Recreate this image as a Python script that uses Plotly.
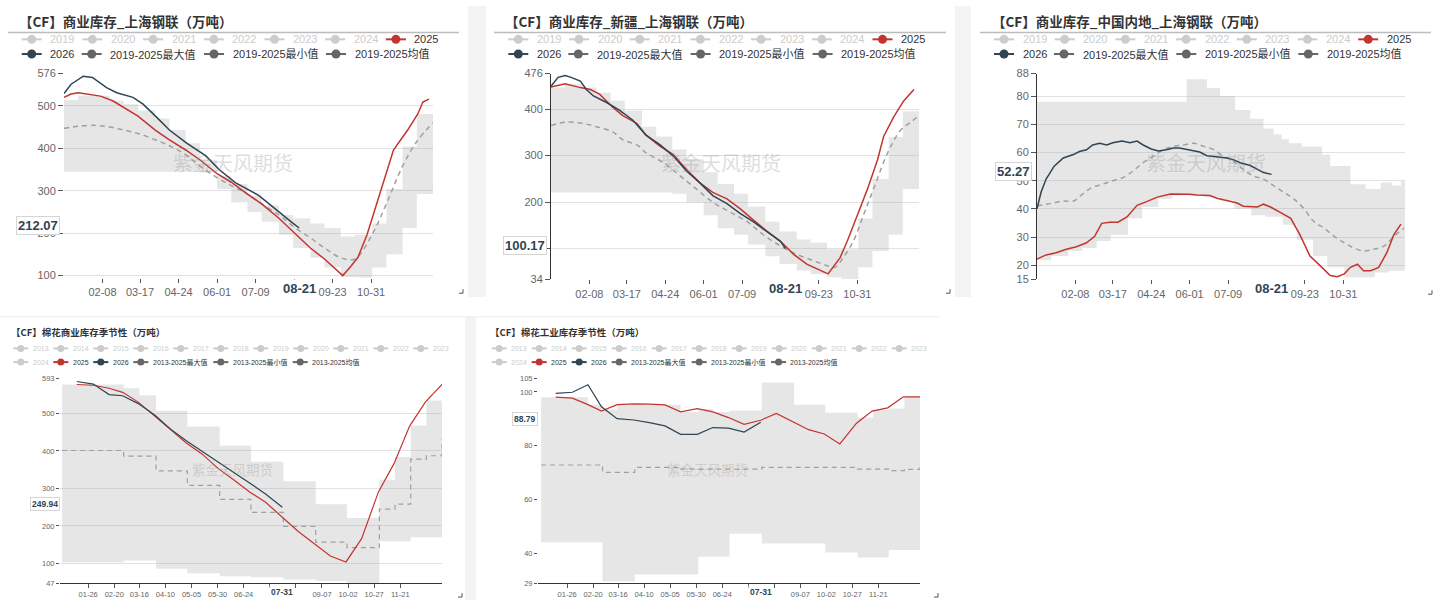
import plotly.graph_objects as go

# ======================= DATA =======================
SM = ["01-01", "01-15", "02-01", "02-15", "03-01", "03-15", "04-01", "04-15", "05-01", "05-15",
      "06-01", "06-15", "07-01", "07-15", "08-01", "08-15", "09-01", "09-15", "10-01", "10-15",
      "11-01", "11-15", "12-01", "12-15", "12-31"]
SM2 = ["01-15", "01-31", "02-15", "02-28", "03-15", "03-31", "04-15", "04-30", "05-15", "05-31",
       "06-15", "06-30", "07-15", "07-31", "08-15", "08-31", "09-15", "09-30", "10-15", "10-31",
       "11-15", "11-30", "12-15", "12-31"]

# ---- Panel 1: 商业库存_上海钢联 ----
p1_title = "【CF】商业库存_上海钢联（万吨）"
p1_max = [514, 524, 524, 512, 504, 489, 470, 443, 412, 373, 335, 316, 289, 266, 243, 235, 223, 212, 192, 196, 223, 304, 404, 481, 516]
p1_min = [345, 345, 345, 345, 345, 345, 345, 345, 345, 343, 304, 273, 250, 227, 196, 165, 142, 119, 96, 92, 119, 150, 212, 292, 366]
p1_mean = [447, 452, 454, 450, 443, 435, 420, 406, 385, 358, 331, 312, 292, 269, 243, 216, 189, 165, 142, 139, 197, 269, 358, 416, 460]
p1_2025_dates = ["01-01", "01-08", "01-15", "01-27", "02-06", "02-18", "03-01", "03-15", "04-01", "04-15", "05-01", "05-15",
                 "06-01", "06-15", "07-01", "07-15", "08-01", "08-15", "09-01", "09-15", "10-03", "10-11", "10-18", "10-27",
                 "11-06", "11-16", "11-22", "12-06", "12-16", "12-21", "12-27"]
p1_2025 = [520, 528, 531, 527, 523, 512, 497, 476, 443, 420, 396, 373, 340, 320, 292, 269, 235, 204, 165, 139, 100, 122, 143, 197,
           273, 350, 396, 443, 481, 509, 516]
p1_2026_dates = ["01-01", "01-08", "01-20", "01-29", "02-12", "02-22", "03-10", "03-20", "04-02", "04-15", "05-02", "05-21",
                 "06-03", "06-19", "07-12", "08-01", "08-15", "08-21"]
p1_2026 = [529, 551, 570, 567, 543, 531, 520, 504, 474, 443, 412, 382, 350, 319, 289, 249, 223, 212.07]
p1_yticks = [100, 200, 300, 400, 500, 576]
p1_ytext = ["100", "200", "300", "400", "500", "576"]

# ---- Panel 2: 商业库存_新疆_上海钢联 ----
p2_title = "【CF】商业库存_新疆_上海钢联（万吨）"
p2_max = [446, 453, 446, 435, 418, 397, 362, 341, 313, 292, 264, 239, 218, 190, 158, 137, 120, 113, 99, 99, 165, 250, 340, 395, 442]
p2_min = [221, 221, 221, 221, 221, 221, 221, 221, 218, 200, 172, 144, 130, 109, 84, 67, 53, 46, 39, 35, 60, 95, 130, 228, 320]
p2_mean_dates = ["01-01", "01-16", "01-30", "02-15", "03-03", "03-13", "03-27", "04-05", "04-22", "05-09", "05-25", "06-10",
                 "06-27", "07-14", "07-30", "08-16", "09-01", "09-18", "10-02", "10-09", "10-17", "10-27", "11-06", "11-16",
                 "11-30", "12-13", "12-23", "12-31"]
p2_mean = [365, 372, 370, 362, 351, 334, 323, 306, 285, 256, 228, 200, 179, 158, 130, 106, 88, 74, 63, 60, 81, 116, 172, 228,
           306, 355, 372, 386]
p2_2025_dates = ["01-01", "01-15", "01-30", "02-09", "02-18", "03-03", "03-13", "03-27", "04-05", "04-19", "05-02", "05-15",
                 "05-28", "06-10", "06-24", "07-07", "07-20", "08-03", "08-16", "08-29", "09-11", "09-24", "10-02", "10-14",
                 "10-21", "10-31", "11-10", "11-20", "11-26", "12-06", "12-16", "12-26"]
p2_2025 = [447, 454, 446, 442, 432, 404, 386, 369, 344, 320, 302, 270, 242, 221, 207, 186, 162, 137, 116, 88, 67, 53, 46, 81,
           116, 172, 228, 291, 341, 383, 418, 442]
p2_2026_dates = ["01-01", "01-08", "01-15", "01-21", "01-30", "02-05", "02-12", "02-25", "03-10", "03-23", "04-05", "04-19",
                 "05-02", "05-15", "05-28", "06-10", "06-24", "07-07", "07-20", "08-03", "08-16", "08-21"]
p2_2026 = [449, 468, 472, 468, 460, 442, 428, 414, 397, 376, 344, 323, 299, 267, 242, 214, 197, 176, 158, 137, 116, 100.17]
p2_yticks = [34, 100, 200, 300, 400, 476]
p2_ytext = ["34", "", "200", "300", "400", "476"]   # "100" is hidden under the latest-value box

# ---- Panel 3: 商业库存_中国内地_上海钢联 ----
p3_title = "【CF】商业库存_中国内地_上海钢联（万吨）"
p3_max_dates = ["01-01", "05-29", "06-18", "07-01", "07-16", "07-31", "08-13", "08-23", "08-31", "09-07", "09-20", "10-10",
                "10-18", "11-07", "11-22", "12-07", "12-18", "12-27", "12-31"]
p3_max = [78.0, 86.0, 82.9, 80.1, 75.1, 72.0, 68.5, 66.5, 64.7, 63.3, 62.2, 59.2, 55.2, 48.8, 47.1, 49.4, 48.3, 49.8, 49.8]
p3_min = [21.8, 23.3, 25.1, 26.2, 28.6, 30.9, 36.7, 40.7, 43.6, 44.8, 44.8, 44.2, 43.0, 40.1, 37.8, 37.2, 34.4, 29.1, 23.3,
          19.3, 15.8, 15.8, 17.5, 18.1, 20.5]
p3_mean_dates = ["01-01", "01-14", "01-27", "02-06", "02-15", "02-25", "03-07", "03-17", "03-27", "04-06", "04-16", "04-26",
                 "05-06", "05-16", "05-26", "06-05", "06-15", "06-25", "07-04", "07-14", "07-24", "08-03", "08-13", "08-23",
                 "09-02", "09-12", "09-22", "10-02", "10-12", "10-22", "11-01", "11-10", "11-20", "11-30", "12-10", "12-20",
                 "12-30"]
p3_mean = [41.1, 41.9, 42.8, 42.8, 45.3, 47.7, 48.8, 50.0, 51.1, 53.5, 56.4, 58.7, 61.0, 62.2, 62.7, 63.3, 62.2, 61.0, 58.7,
           57.0, 54.0, 51.7, 50.6, 48.3, 45.9, 43.6, 40.1, 35.5, 33.2, 30.3, 28.0, 26.2, 25.1, 25.7, 26.8, 30.3, 33.2]
p3_2025_dates = ["01-01", "01-10", "01-20", "01-30", "02-09", "02-19", "02-27", "03-06", "03-14", "03-22", "03-31", "04-10",
                 "04-20", "04-30", "05-13", "05-26", "06-01", "06-08", "06-21", "06-28", "07-08", "07-18", "07-24", "08-07",
                 "08-13", "08-20", "08-30", "09-09", "09-18", "09-28", "10-08", "10-18", "10-25", "11-01", "11-07", "11-14",
                 "11-20", "11-27", "12-05", "12-13", "12-20", "12-27"]
p3_2025 = [22.2, 23.7, 24.5, 25.7, 26.6, 28.0, 30.3, 34.9, 35.3, 35.3, 37.2, 41.3, 42.7, 44.2, 45.3, 45.3, 45.2, 45.0, 44.8,
           43.8, 43.0, 42.1, 41.0, 40.7, 41.7, 40.7, 38.7, 36.7, 30.9, 23.3, 19.9, 16.4, 16.0, 17.0, 19.3, 20.4, 18.1, 18.1,
           19.3, 24.5, 30.9, 34.6]
p3_2026_dates = ["01-01", "01-05", "01-10", "01-18", "01-27", "02-06", "02-12", "02-19", "02-25", "03-04", "03-11", "03-17",
                 "03-26", "04-03", "04-10", "04-16", "04-24", "05-01", "05-09", "05-16", "05-22", "06-01", "06-11", "06-18",
                 "06-28", "07-08", "07-14", "07-21", "07-31", "08-07", "08-13", "08-21"]
p3_2026 = [40.1, 45.9, 50.6, 55.2, 58.1, 59.3, 60.4, 61.0, 62.7, 63.3, 62.7, 63.5, 64.1, 63.5, 64.1, 62.7, 61.3, 60.6, 61.0,
           61.6, 61.6, 61.0, 60.2, 58.9, 58.4, 58.1, 57.5, 56.4, 55.4, 54.0, 52.9, 52.27]
p3_yticks = [15, 20, 30, 40, 50, 60, 70, 80, 88]
p3_ytext = ["15", "20", "30", "40", "50", "60", "70", "80", "88"]

# ---- Panel 4: 棉花商业库存季节性 ----
p4_title = "【CF】棉花商业库存季节性（万吨）"
p4_steps = ["01-01", "03-01", "03-16", "04-01", "05-01", "06-01", "07-01", "08-01", "09-01", "10-01", "11-01", "11-16",
            "12-01", "12-16", "12-31"]
p4_max = [577, 567, 548, 507, 465, 414, 371, 319, 258, 221, 323, 384, 468, 534, 577]
p4_min = [103, 108, 108, 86, 74, 66, 63, 57, 53, 47, 159, 159, 170, 170, 140]
p4_mean = [401, 386, 386, 347, 308, 271, 236, 199, 157, 142, 245, 258, 378, 387, 432]
p4_2025 = [577, 575, 567, 556, 530, 492, 459, 421, 392, 352, 322, 290, 263, 223, 186, 152, 120, 104, 166, 290, 366, 466, 530, 577]
p4_2026 = [585, 578, 550, 547, 526, 495, 458, 427, 399, 370, 343, 314, 285, 249.94]
p4_yticks = [47, 100, 200, 300, 400, 500, 593]
p4_ytext = ["47", "100", "200", "300", "400", "500", "593"]

# ---- Panel 5: 棉花工业库存季节性 ----
p5_title = "【CF】棉花工业库存季节性（万吨）"
p5_steps = ["01-01", "02-15", "03-01", "03-15", "04-01", "05-15", "06-01", "06-15", "07-01", "08-01", "09-01", "10-01",
            "11-01", "11-16", "12-01", "12-16", "12-31"]
p5_max = [98.0, 95.3, 93.5, 95.3, 95.3, 92.6, 93.7, 92.6, 93.1, 103.5, 95.3, 92.3, 90.5, 93.5, 93.9, 98.3, 98.3]
p5_min = [44.2, 44.2, 29.8, 29.8, 32.3, 32.3, 38.9, 38.9, 47.4, 43.8, 43.8, 40.4, 38.6, 38.6, 41.4, 41.4, 41.4]
p5_mean = [72.9, 72.9, 70.2, 70.2, 72.0, 71.4, 71.4, 71.4, 71.4, 72.0, 72.0, 72.0, 71.4, 71.4, 70.8, 71.3, 73.3]
p5_2025 = [98.1, 97.7, 95.3, 92.9, 95.3, 95.6, 95.5, 95.2, 92.6, 93.8, 92.6, 90.5, 88.0, 89.5, 92.0, 88.9, 86.0, 84.4, 80.7,
           88.4, 92.9, 94.1, 98.2, 98.2]
p5_2026 = [99.5, 99.9, 102.7, 94.5, 90.1, 89.6, 88.6, 87.4, 84.3, 84.3, 86.8, 86.6, 85.1, 88.79]
p5_yticks = [29, 40, 60, 80, 100, 105]
p5_ytext = ["29", "40", "60", "80", "100", "105"]

# tick labels (labels hidden under the current-date label are left blank)
ticks_daily = ["02-08", "03-17", "04-24", "06-01", "07-09", "08-16", "09-23", "10-31"]
ticks_daily_text = ["02-08", "03-17", "04-24", "06-01", "07-09", "", "09-23", "10-31"]
ticks_season = ["01-26", "02-20", "03-16", "04-10", "05-05", "05-30", "06-24", "07-19", "08-13", "09-07", "10-02",
                "10-27", "11-21"]
ticks_season_text = ["01-26", "02-20", "03-16", "04-10", "05-05", "05-30", "06-24", "", "", "09-07", "10-02",
                     "10-27", "11-21"]

# legends
leg_years_a = ["2019", "2020", "2021", "2022", "2023", "2024"]
leg_extra_a = ["2019-2025最大值", "2019-2025最小值", "2019-2025均值"]
leg_years_b = ["2013", "2014", "2015", "2016", "2017", "2018", "2019", "2020", "2021", "2022", "2023", "2024"]
leg_extra_b = ["2013-2025最大值", "2013-2025最小值", "2013-2025均值"]
watermark = "紫金天风期货"

# ======================= STYLE / LAYOUT =======================
W, H = 1434, 606
FONT = "Liberation Sans, Noto Sans CJK SC, sans-serif"
CJK = "Noto Sans CJK SC, sans-serif"
RED = "#c23531"
NAVY = "#2f4554"
MEANC = "#a0a0a0"
BAND = "rgba(165,165,165,0.28)"
GRID = "#e2e2e2"
INACT = "#cccccc"
DARKL = "#666666"


def fx(px):
    return px / W


def fy(py):
    return 1 - py / H


def dt(lst):
    return ["2001-" + s for s in lst]


fig = go.Figure()
shapes = []
annotations = []
layout = {}


def add_panel(i, xpx, ypx, xr, yr, yticks, ytext, xticks, xtext, fs, band, mean, mean_shape, s25, s26, lw,
              yline, xline, grid):
    xa = "x" if i == 1 else f"x{i}"
    ya = "y" if i == 1 else f"y{i}"
    (min_d, vmin), (max_d, vmax) = band
    fig.add_trace(go.Scatter(x=dt(min_d), y=vmin, mode="lines", line=dict(width=0, shape="hv"),
                             xaxis=xa, yaxis=ya, hoverinfo="skip", showlegend=False))
    fig.add_trace(go.Scatter(x=dt(max_d), y=vmax, mode="lines", line=dict(width=0, shape="hv"),
                             fill="tonexty", fillcolor=BAND, xaxis=xa, yaxis=ya, hoverinfo="skip",
                             showlegend=False))
    md, mv = mean
    fig.add_trace(go.Scatter(x=dt(md), y=mv, mode="lines",
                             line=dict(color=MEANC, width=lw, dash="5px,4px", shape=mean_shape),
                             xaxis=xa, yaxis=ya, showlegend=False))
    fig.add_trace(go.Scatter(x=dt(s25[0]), y=s25[1], mode="lines", line=dict(color=RED, width=lw),
                             xaxis=xa, yaxis=ya, showlegend=False))
    fig.add_trace(go.Scatter(x=dt(s26[0]), y=s26[1], mode="lines", line=dict(color=NAVY, width=lw),
                             xaxis=xa, yaxis=ya, showlegend=False))
    sfx = "" if i == 1 else str(i)
    layout["xaxis" + sfx] = dict(
        domain=[fx(xpx[0]), fx(xpx[1])], range=xr, type="date", anchor=ya,
        tickmode="array", tickvals=dt(xticks), ticktext=xtext, tickangle=0,
        showgrid=False, zeroline=False, showline=xline, linecolor="#333", linewidth=1,
        ticks="outside", ticklen=4, tickcolor="#555",
        tickfont=dict(size=fs, color="#666", family=FONT), fixedrange=True)
    layout["yaxis" + sfx] = dict(
        domain=[fy(ypx[1]), fy(ypx[0])], range=yr, anchor=xa,
        tickmode="array", tickvals=yticks, ticktext=ytext, showgrid=grid, gridcolor=GRID, gridwidth=1,
        zeroline=False, showline=yline, linecolor="#333", linewidth=1,
        ticks="outside", ticklen=5 if fs > 9 else 3, tickcolor="#555",
        tickfont=dict(size=fs, color="#666", family=FONT), fixedrange=True)
    return xa, ya


add_panel(1, (64, 433), (69, 277), ["2001-01-01", "2001-12-31"], [95.4, 576], p1_yticks, p1_ytext, ticks_daily,
          ticks_daily_text, 11, ((SM, p1_min), (SM, p1_max)), (SM, p1_mean), "spline",
          (p1_2025_dates, p1_2025), (p1_2026_dates, p1_2026), 1.5, False, False, True)
add_panel(2, (551, 919), (69, 279), ["2001-01-01", "2001-12-31"], [34, 476], p2_yticks, p2_ytext, ticks_daily,
          ticks_daily_text, 11, ((SM, p2_min), (SM, p2_max)), (p2_mean_dates, p2_mean), "spline",
          (p2_2025_dates, p2_2025), (p2_2026_dates, p2_2026), 1.5, True, False, True)
add_panel(3, (1037, 1405), (69, 279), ["2001-01-01", "2001-12-31"], [15, 88], p3_yticks, p3_ytext, ticks_daily,
          ticks_daily_text, 11, ((SM, p3_min), (p3_max_dates, p3_max)), (p3_mean_dates, p3_mean), "spline",
          (p3_2025_dates, p3_2025), (p3_2026_dates, p3_2026), 1.5, True, False, True)
add_panel(4, (60, 442), (380, 589), ["2000-12-30", "2001-12-31"], [47, 593], p4_yticks, p4_ytext, ticks_season,
          ticks_season_text, 7.5, ((p4_steps, p4_min), (p4_steps, p4_max)), (p4_steps, p4_mean), "hv",
          (SM2, p4_2025), (SM2[:len(p4_2026)], p4_2026), 1.2, False, True, True)
add_panel(5, (538, 920), (380, 589), ["2000-12-29", "2001-12-31"], [29, 105], p5_yticks, p5_ytext, ticks_season,
          ticks_season_text, 7.5, ((p5_steps, p5_min), (p5_steps, p5_max)), (p5_steps, p5_mean), "hv",
          (SM2, p5_2025), (SM2[:len(p5_2026)], p5_2026), 1.2, False, True, False)

# ---------------- decorations ----------------
for (x0, y0, x1, y1) in [(468, 0, 486, 297), (955, 0, 971, 297), (465, 317, 476, 606)]:
    shapes.append(dict(type="rect", xref="paper", yref="paper", x0=fx(x0), x1=fx(x1), y0=fy(y1), y1=fy(y0),
                       fillcolor="#f3f3f3", line=dict(width=0), layer="below"))
shapes.append(dict(type="line", xref="paper", yref="paper", x0=fx(0), x1=fx(939), y0=fy(317), y1=fy(317),
                   line=dict(color="#ececec", width=1)))
for (x0, x1) in [(8, 459), (494, 946), (980, 1431)]:
    shapes.append(dict(type="line", xref="paper", yref="paper", x0=fx(x0), x1=fx(x1), y0=fy(27), y1=fy(27),
                       line=dict(color="#bdbdbd", width=1.5)))
for (cx, cy) in [(463, 293), (950, 293), (1432, 294), (462, 603), (938, 603)]:
    shapes.append(dict(type="path", xref="paper", yref="paper",
                       path=f"M {fx(cx-4)},{fy(cy)} L {fx(cx)},{fy(cy)} L {fx(cx)},{fy(cy-4)}",
                       line=dict(color="#555", width=1)))

for (tx, ty, txt, sz) in [(17, 15, p1_title, 13.5), (503, 15, p2_title, 13.5), (990, 15, p3_title, 13.5),
                          (9, 333, p4_title, 9.5), (488, 333, p5_title, 9.5)]:
    annotations.append(dict(text=f"<b>{txt}</b>", xref="paper", yref="paper", x=fx(tx), y=fy(ty),
                            xanchor="left", yanchor="middle", showarrow=False,
                            font=dict(size=sz, color="#333", family=CJK)))


def legend_item(x0, yc, color, text, tcolor, L, r, tgap, fsize):
    shapes.append(dict(type="line", xref="paper", yref="paper", x0=fx(x0), x1=fx(x0 + L), y0=fy(yc), y1=fy(yc),
                       line=dict(color=color, width=2)))
    shapes.append(dict(type="circle", xref="paper", yref="paper", xsizemode="pixel", ysizemode="pixel",
                       xanchor=fx(x0 + L / 2), yanchor=fy(yc), x0=-r, x1=r, y0=-r, y1=r,
                       fillcolor=color, line=dict(width=0)))
    annotations.append(dict(text=text, xref="paper", yref="paper", x=fx(x0 + tgap), y=fy(yc),
                            xanchor="left", yanchor="middle", showarrow=False,
                            font=dict(size=fsize, color=tcolor, family=FONT)))


for off in [0, 486.6, 972.3]:
    for k, yr_ in enumerate(leg_years_a):
        legend_item(21.7 + off + 60.7 * k, 34, INACT, yr_, INACT, 20, 4.5, 26.5, 11)
    legend_item(21.7 + off + 60.7 * 6, 34, RED, "2025", "#333", 20, 4.5, 26.5, 11)
    legend_item(21.7 + off, 49, NAVY, "2026", "#333", 20, 4.5, 26.5, 11)
    for xx, lab in zip([81.7, 204, 326], leg_extra_a):
        legend_item(xx + off, 49, DARKL, lab, "#333", 20, 4.5, 26.5, 11)

for off in [0, 478.4]:
    for k, yr_ in enumerate(leg_years_b[:11]):
        legend_item(13.3 + off + 40 * k, 349.3, INACT, yr_, INACT, 15, 3.5, 17.3, 7)
    legend_item(13.3 + off, 363.3, INACT, leg_years_b[11], INACT, 15, 3.5, 17.3, 7)
    legend_item(53.3 + off, 363.3, RED, "2025", "#333", 15, 3.5, 17.3, 7)
    legend_item(93.3 + off, 363.3, NAVY, "2026", "#333", 15, 3.5, 17.3, 7)
    for xx, lab in zip([133.3, 213.3, 292.7], leg_extra_b):
        legend_item(xx + off, 363.3, DARKL, lab, "#333", 15, 3.5, 17.3, 7)

for (wx, wy, sz) in [(233, 160, 20), (721, 160, 20), (1206, 160, 20), (232, 472, 13.5), (707, 472, 13.5)]:
    annotations.append(dict(text=watermark, xref="paper", yref="paper", x=fx(wx), y=fy(wy),
                            xanchor="center", yanchor="middle", showarrow=False,
                            font=dict(size=sz, color="rgba(140,140,140,0.30)", family=CJK)))

for (ya, rx, val, sz) in [("y", 60, p1_2026[-1], 13), ("y2", 547, p2_2026[-1], 13), ("y3", 1032, p3_2026[-1], 13),
                          ("y4", 60, p4_2026[-1], 8.5), ("y5", 538, p5_2026[-1], 8.5)]:
    annotations.append(dict(text=f"<b>{val:.2f}</b>", xref="paper", yref=ya, x=fx(rx), y=val, yshift=3,
                            xanchor="right", yanchor="middle", showarrow=False,
                            bgcolor="white", bordercolor="#d5d5d5", borderwidth=1, borderpad=1,
                            font=dict(size=sz, color=NAVY, family=FONT)))

for (xa, d, py, sz) in [("x", p1_2026_dates[-1], 288.5, 13), ("x2", p2_2026_dates[-1], 288.5, 13),
                        ("x3", p3_2026_dates[-1], 288.5, 13),
                        ("x4", SM2[len(p4_2026) - 1], 598.3, 8.5),
                        ("x5", SM2[len(p5_2026) - 1], 598.3, 8.5)]:
    annotations.append(dict(text=f"<b>{d}</b>", xref=xa, yref="paper", x="2001-" + d, y=fy(py),
                            xanchor="center", yanchor="middle", showarrow=False,
                            bgcolor="white", font=dict(size=sz, color=NAVY, family=FONT)))

fig.update_layout(
    width=W, height=H, autosize=False,
    margin=dict(l=0, r=0, t=0, b=0, pad=0),
    paper_bgcolor="white", plot_bgcolor="rgba(0,0,0,0)",
    showlegend=False, shapes=shapes, annotations=annotations,
    font=dict(family=FONT), hovermode=False,
    **layout
)

fig.write_html("out.html", config={"displayModeBar": False},
               post_script="document.body.style.margin='0';document.body.style.overflow='hidden';")
